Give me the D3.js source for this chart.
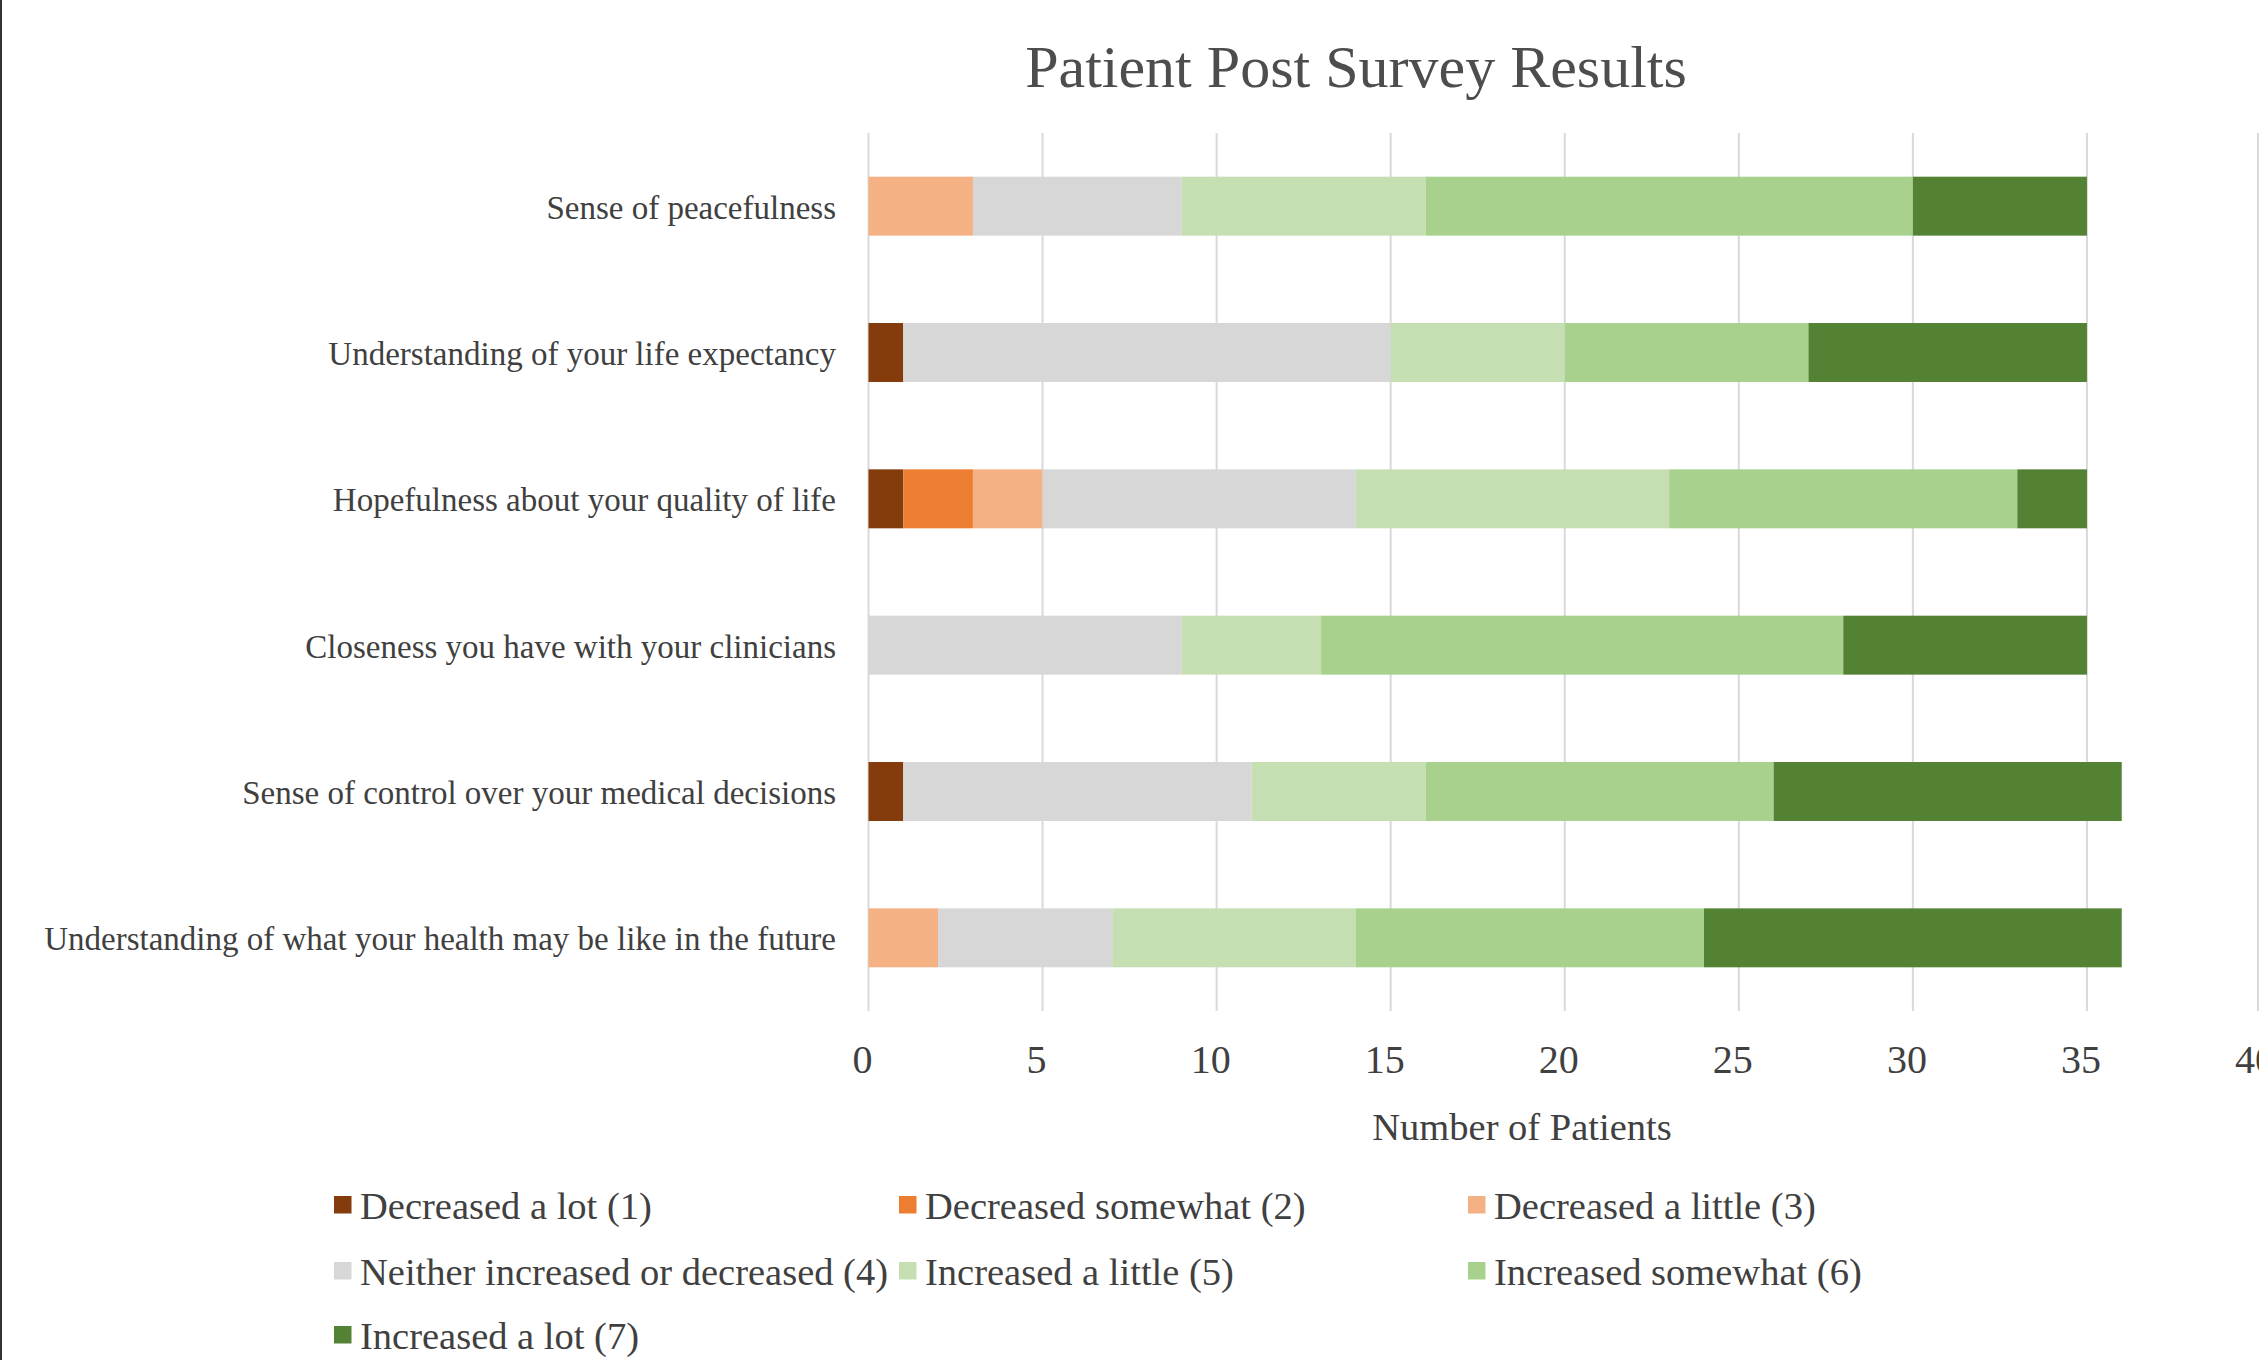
<!DOCTYPE html>
<html>
<head>
<meta charset="utf-8">
<script src="https://cdn.jsdelivr.net/npm/d3@7"></script>
<style>
  html, body { margin: 0; padding: 0; background: #ffffff; }
  svg { display: block; }
  text { font-family: "Liberation Serif", "Times New Roman", "DejaVu Serif", serif; }
</style>
</head>
<body>
<svg id="chart" width="2259" height="1360"></svg>
<script>
// ---- Data ----
const categories = [
  "Sense of peacefulness",
  "Understanding of your life expectancy",
  "Hopefulness about your quality of life",
  "Closeness you have with your clinicians",
  "Sense of control over your medical decisions",
  "Understanding of what your health may be like in the future"
];
const seriesNames = [
  "Decreased a lot (1)",
  "Decreased somewhat (2)",
  "Decreased a little (3)",
  "Neither increased or decreased (4)",
  "Increased a little (5)",
  "Increased somewhat (6)",
  "Increased a lot (7)"
];
const decreasedALot        = [0, 1, 1, 0, 1, 0];
const decreasedSomewhat    = [0, 0, 2, 0, 0, 0];
const decreasedALittle     = [3, 0, 2, 0, 0, 2];
const neither              = [6, 14, 9, 9, 10, 5];
const increasedALittle     = [7, 5, 9, 4, 5, 7];
const increasedSomewhat    = [14, 7, 10, 15, 10, 10];
const increasedALot        = [5, 8, 2, 7, 10, 12];
const seriesValues = [decreasedALot, decreasedSomewhat, decreasedALittle, neither,
                      increasedALittle, increasedSomewhat, increasedALot];
const xTicks = [0, 5, 10, 15, 20, 25, 30, 35, 40];
const chartTitle = "Patient Post Survey Results";
const xAxisTitle = "Number of Patients";
const colors = ["#843C0C", "#ED7D31", "#F4B183", "#D7D7D7", "#C5DFB3", "#A9D18E", "#548235"];

// ---- Build table ----
const table = categories.map((c, i) => {
  const row = { category: c };
  seriesNames.forEach((s, j) => { row[s] = seriesValues[j][i]; });
  return row;
});
const stacked = d3.stack().keys(seriesNames)(table);

const svg = d3.select("#chart");
const textColor = "#404040";

// left border line
svg.append("rect").attr("x", 0).attr("y", 0).attr("width", 2).attr("height", 1360).attr("fill", "#333");

const x = d3.scaleLinear().domain([0, 40]).range([868.5, 2261]);
const y = d3.scaleBand().domain(categories).range([133, 1011]).paddingInner(0.597).paddingOuter(0.2985);

// gridlines
svg.append("g").selectAll("line").data(xTicks).join("line")
  .attr("x1", d => Math.min(x(d), 2258)).attr("x2", d => Math.min(x(d), 2258))
  .attr("y1", 133).attr("y2", 1011)
  .attr("stroke", "#D9D9D9").attr("stroke-width", 2);

// bars
svg.append("g").selectAll("g").data(stacked).join("g")
  .attr("fill", (d, i) => colors[i])
  .selectAll("rect").data(d => d).join("rect")
  .attr("x", d => x(d[0]))
  .attr("width", d => Math.max(0, x(d[1]) - x(d[0])))
  .attr("y", d => y(d.data.category))
  .attr("height", y.bandwidth());

// category labels
svg.append("g").selectAll("text").data(categories).join("text")
  .attr("x", 836)
  .attr("y", d => y(d) + y.bandwidth() / 2 + 12.5)
  .attr("text-anchor", "end")
  .attr("font-size", 33)
  .attr("fill", textColor)
  .text(d => d);

// x tick labels
svg.append("g").selectAll("text").data(xTicks).join("text")
  .attr("x", d => x(d) - 6)
  .attr("y", 1073)
  .attr("text-anchor", "middle")
  .attr("font-size", 40)
  .attr("fill", textColor)
  .text(d => d);

// axis title
svg.append("text")
  .attr("x", 1522).attr("y", 1140)
  .attr("text-anchor", "middle")
  .attr("font-size", 38.5)
  .attr("fill", textColor)
  .text(xAxisTitle);

// chart title
svg.append("text")
  .attr("x", 1356).attr("y", 87)
  .attr("text-anchor", "middle")
  .attr("font-size", 60)
  .attr("fill", "#4d4d4d")
  .text(chartTitle);

// legend
const legendCols = [334, 899, 1468];
const legendRows = [1205, 1271, 1335];
const legend = svg.append("g").selectAll("g").data(seriesNames).join("g")
  .attr("transform", (d, i) => `translate(${legendCols[i % 3]},${legendRows[Math.floor(i / 3)]})`);
legend.append("rect")
  .attr("x", 0).attr("y", -9).attr("width", 17.5).attr("height", 17.5)
  .attr("fill", (d, i) => colors[i]);
legend.append("text")
  .attr("x", 26).attr("y", 14)
  .attr("font-size", 38.5)
  .attr("fill", textColor)
  .text(d => d);
</script>
</body>
</html>
